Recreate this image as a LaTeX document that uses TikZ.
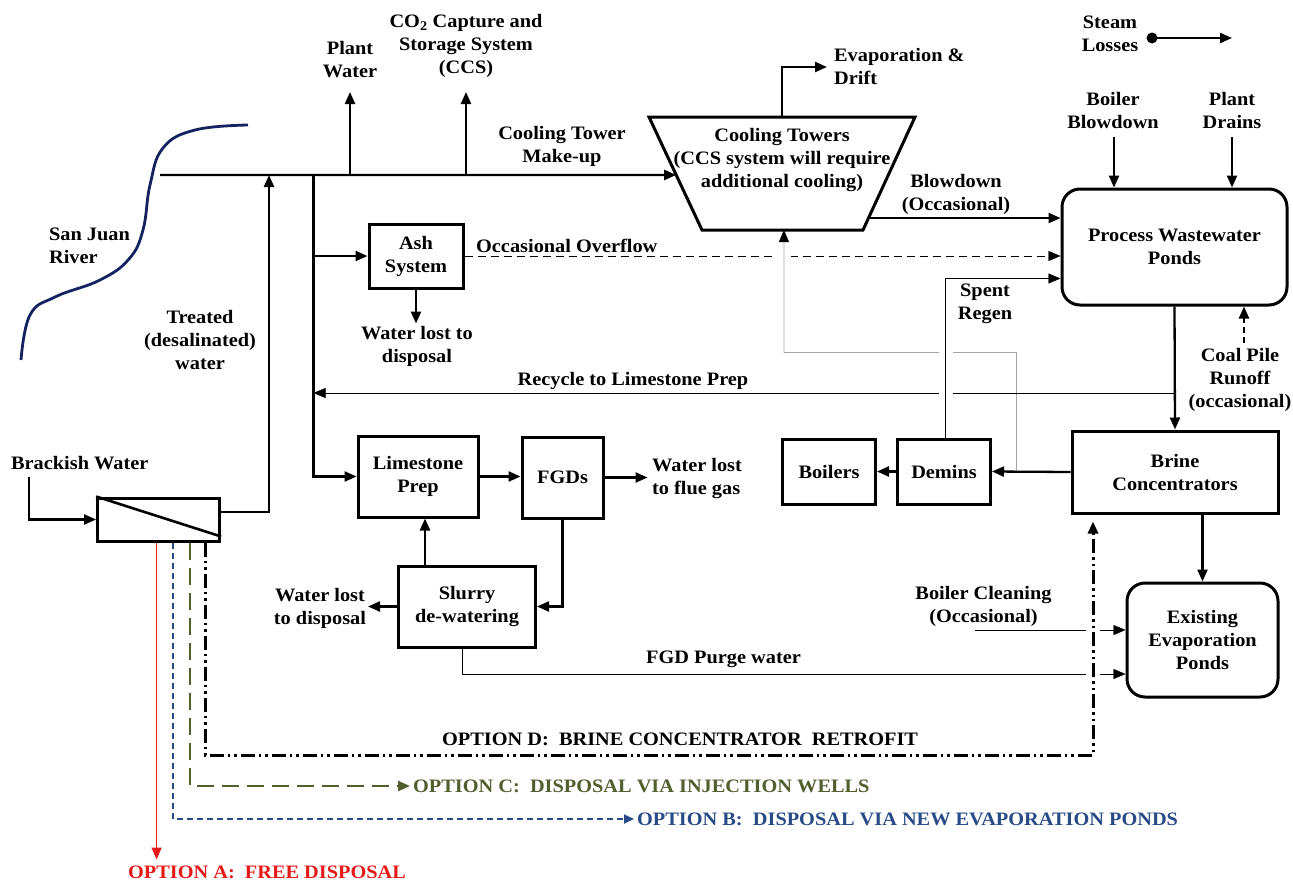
\documentclass[tikz,border=0pt]{standalone}
\usepackage{fontspec}
\setmainfont[FakeStretch=1.07]{Liberation Serif}
\usetikzlibrary{arrows.meta,calc,backgrounds}
\definecolor{river}{RGB}{20,35,95}
\definecolor{optred}{RGB}{230,25,25}
\definecolor{optolive}{RGB}{80,95,45}
\definecolor{optblue}{RGB}{40,75,135}
\newcommand{\flowfont}{\fontsize{19}{23}\selectfont\bfseries}

\begin{document}
\begin{tikzpicture}[>={Triangle[length=12pt,width=10pt]},x=1pt,y=-1pt,line width=2.3pt]
                \tikzstyle{every node}=[font=\flowfont,align=center,inner sep=2pt]
                \tikzstyle{unit}=[draw,line width=3pt,inner sep=0pt]
                \tikzstyle{pond}=[unit,rounded corners=18pt]
                \tikzstyle{gap}=[white,line width=14pt]
                \useasboundingbox (0,0) rectangle (1293,881);
                % river
                \draw[river,line width=2.8pt] plot[smooth,tension=0.7] coordinates {(248,125) (195,130) (163,148) (150,185) (143,230) (129,259) (100,280) (55,297) (30,315) (21,360)};
                % units
                \node[unit,minimum width=94,minimum height=64] (ash) at (416,256) {Ash\\System};
                \node[pond,minimum width=225,minimum height=116] (pwp) at (1174.5,247) {Process Wastewater\\Ponds};
                \node[unit,minimum width=206,minimum height=82] (brine) at (1175,472) {Brine\\Concentrators};
                \node[unit,minimum width=93,minimum height=65] (demins) at (944,471.5) {Demins};
                \node[unit,minimum width=93,minimum height=65] (boilers) at (829,471.5) {Boilers};
                \node[pond,minimum width=151,minimum height=114] (evap) at (1202.5,640) {Existing\\Evaporation\\Ponds};
                \node[unit,minimum width=120,minimum height=81] (lime) at (418,476.5) {Limestone\\Prep};
                \node[unit,minimum width=81,minimum height=81] (fgd) at (562.5,477.5) {FGDs};
                \node[unit,minimum width=137,minimum height=81] (slurry) at (467,606.5) {Slurry\\de-watering};
                \node[unit,minimum width=122,minimum height=43] (desal) at (158.6,519.5) {};
                \draw[line width=2.6pt] (desal.north west) -- ([yshift=6pt]desal.south east);
                % cooling towers
                \coordinate (ctTL) at (649,117);
                \coordinate (ctTR) at (915,117);
                \coordinate (ctBR) at (863,230);
                \coordinate (ctBL) at (702,230);
                \draw[line width=3pt] (ctTL) -- (ctTR) -- (ctBR) -- (ctBL) -- cycle;
                \node (ct) at (782,160) {Cooling Towers\\(CCS system will require\\additional cooling)};
                % labels
                \node[anchor=west,align=left] (riverlbl) at (46,246) {San Juan\\River};
                \node (plantlbl) at (350,60) {Plant\\Water};
                \node (ccslbl) at (466,46) {CO\textsubscript{2} Capture and\\Storage System\\(CCS)};
                \node (makeuplbl) at (562,146) {Cooling Tower\\Make-up};
                \node[anchor=west] (overflowlbl) at (473,246) {Occasional Overflow};
                \node (ashlost) at (417,346) {Water lost to\\disposal};
                \node (treatedlbl) at (200,340) {Treated\\(desalinated)\\water};
                \node (recyclelbl) at (633,381) {Recycle to Limestone Prep};
                \node[anchor=west,align=left] (driftlbl) at (831,66) {Evaporation \&\\Drift};
                \node (steamlbl) at (1110,34) {Steam\\Losses};
                \node (bbdlbl) at (1113,110) {Boiler\\Blowdown};
                \node (drainlbl) at (1232,110) {Plant\\Drains};
                \node (bdlbl) at (956,194) {Blowdown\\(Occasional)};
                \node (regenlbl) at (985,304) {Spent\\Regen};
                \node (coallbl) at (1240,380) {Coal Pile\\Runoff\\(occasional)};
                \node[anchor=west] (brackishlbl) at (8,463) {Brackish Water};
                \node[anchor=west,align=left] (fluelbl) at (649,478) {Water lost\\to flue gas};
                \node (slurrylost) at (320,608) {Water lost\\to disposal};
                \node (cleanlbl) at (983.5,606) {Boiler Cleaning\\(Occasional)};
                \node[anchor=west] (purgelbl) at (643,659) {FGD Purge water};
                \node[anchor=west] (optD) at (439,739) {OPTION D:~~BRINE CONCENTRATOR~~RETROFIT};
                \node[anchor=west,text=optolive] (optC) at (410,786) {OPTION C:~~DISPOSAL VIA INJECTION WELLS};
                \node[anchor=west,text=optblue] (optB) at (634,819) {OPTION B:~~DISPOSAL VIA NEW EVAPORATION PONDS};
                \node[text=optred] (optA) at (267,872) {OPTION A:~~FREE DISPOSAL};
                % junctions
                \coordinate (intake) at (160,175);
                \coordinate (jtw) at (269,175);
                \coordinate (jsplit) at (313.5,175);
                \coordinate (jpw) at (350,175);
                \coordinate (jccs) at (466,175);
                \coordinate (ctin) at ($(ctTL)!0.513!(ctBL)$);
                \coordinate (ctout) at ($(ctTR)!0.894!(ctBR)$);
                \coordinate (cttop) at ($(ctTL)!0.5!(ctTR)$);
                \coordinate (ctbot) at ($(ctBL)!0.509!(ctBR)$);
                \coordinate (jret) at (1016.5,472);
                \coordinate (jret2) at (784,352.5);
                \coordinate (jrec) at (1175,393);
                \coordinate (bbd) at (1114,137);
                \coordinate (drain) at (1232,137);
                \coordinate (steam) at (1152,38);
                \coordinate (coal) at (1244,343);
                \coordinate (clean) at (975,630);
                \coordinate (brack) at (29.3,477);
                \coordinate (dcorner) at (1093,755);
                % crossing lines, gaps cut in white
                \begin{scope}[on background layer]
                    \draw[dash pattern=on 8pt off 5pt,->] (ash.east) -- (ash.east -| pwp.west);
                    \draw[->] (jrec) -- (jrec -| jsplit);
                    \draw[->] (clean) -- (clean -| evap.west);
                    \draw[->] ([xshift=-5pt]slurry.south) |- ([yshift=-34pt]evap.west);
                    \draw[gap] (784,250) -- (784,266);
                    \draw[->] (jret) |- (jret2) -- (ctbot);
                    \draw[gap] (945.5,344) -- (945.5,361) (945.5,385) -- (945.5,401);
                    \draw[->] ([xshift=1.5pt]demins.north) |- ([yshift=-31.5pt]pwp.west);
                    \draw[gap] (1093,622) -- (1093,638) (1093,666) -- (1093,682);
                    \draw[line width=3pt,dash pattern=on 14pt off 4pt on 2.5pt off 4pt on 2.5pt off 4pt,->] ([xshift=46.5pt]desal.south) |- (dcorner) -- ([yshift=-7pt]brine.south -| dcorner);
                \end{scope}
                % flows
                \draw[->] (intake) -- (ctin);
                \draw[->] ([yshift=7.5pt]desal.east) -| (jtw);
                \draw[->] (jpw) -- ++(0,-83);
                \draw[->] (jccs) -- ++(0,-83);
                \draw[->] (jsplit) |- (lime.west);
                \draw[->] (jsplit |- ash.west) -- (ash.west);
                \draw[->] (ash.south) -- ++(0,34);
                \draw[->] (cttop) |- ++(45,-50);
                \draw[->] (ctout) -- (ctout -| pwp.west);
                \draw[->] (bbd) -- (bbd |- pwp.north);
                \draw[->] (drain) -- (drain |- pwp.north);
                \fill (steam) circle (5.5);
                \draw[->] (steam) -- ++(80,0);
                \draw[->] (pwp.south) -- (brine.north);
                \draw[dash pattern=on 6pt off 4pt,->] (coal) -- (coal |- pwp.south);
                \draw[->] (brine.west) -- (demins.east);
                \draw[->] (demins.west) -- (boilers.east);
                \draw[->] (brine.south -| evap.north) -- (evap.north);
                \draw[->] (brack) |- (desal.west);
                \draw[->] (lime.east) -- (lime.east -| fgd.west);
                \draw[->] (fgd.east) -- ++(43,0);
                \draw[->] ([xshift=-42pt]slurry.north) -- ([xshift=-42pt]slurry.north |- lime.south);
                \draw[->] (fgd.south) |- (slurry.east);
                \draw[->] (slurry.west) -- ++(-29,0);
                % disposal options
                \draw[optred,line width=1.5pt,->] ([xshift=-2pt]desal.south) -- ++(0,317);
                \draw[optolive,dash pattern=on 17pt off 8pt,->] ([xshift=31.5pt]desal.south) |- (optC.west);
                \draw[optblue,line width=1.8pt,dash pattern=on 6pt off 4pt,-{Triangle[length=10pt,width=9pt]}] ([xshift=14.5pt]desal.south) |- (optB.west);
            \end{tikzpicture}
\end{document}
